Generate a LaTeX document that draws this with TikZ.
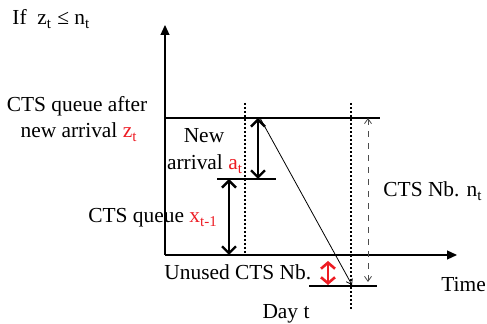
\documentclass[tikz,border=0pt]{standalone}
\usepackage{fontspec}
\setmainfont{Liberation Serif}
\usepackage{tikz}
\usetikzlibrary{arrows.meta, positioning}
\definecolor{notered}{RGB}{237, 28, 36}
\newcommand{\redtxt}[1]{\textcolor{notered}{#1}}

\begin{document}
\begin{tikzpicture}[x=0.5pt, y=-0.5pt,
    lbl/.style={inner sep=0pt, anchor=base west, font=\fontsize{10.7}{13}\selectfont},
    axis/.style={line width=0.6pt, -{Triangle[length=5pt, width=4.5pt]}},
    level/.style={line width=0.55pt},
    guide/.style={line width=0.6pt, dash pattern=on 1pt off 1pt},
    bigarrow/.style={line width=1.2pt, {Straight Barb[length=3.5pt, width=7pt]}-{Straight Barb[length=3.5pt, width=7pt]}},
    thinarrow/.style={line width=0.4pt, -{Straight Barb[length=2.5pt, width=3.5pt]}},
    quota/.style={line width=0.4pt, black!70, dashed, {Straight Barb[length=2.5pt, width=3.5pt]}-{Straight Barb[length=2.5pt, width=3.5pt]}},
    unused/.style={line width=1.3pt, notered, {Straight Barb[length=3pt, width=7pt]}-{Straight Barb[length=3pt, width=7pt]}}
]
    \useasboundingbox (0,0) rectangle (487,324);

    % axes
    \coordinate (origin) at (165,255);
    \coordinate (ytip) at (165,25);
    \coordinate (xtip) at (457,255);
    \draw[axis] (origin) -- (ytip);
    \draw[axis] (origin) -- (xtip);

    % levels
    \coordinate (ztop) at (165,118);
    \coordinate (zend) at (380,118);
    \coordinate (xl) at (217,179);
    \coordinate (xr) at (276,179);
    \coordinate (nl) at (309,286);
    \coordinate (nr) at (377,286);
    \draw[level] (ztop) -- (zend);
    \draw[level] (xl) -- (xr);
    \draw[level] (nl) -- (nr);

    % day guides
    \coordinate (g1top) at (245,103);
    \coordinate (g1bot) at (245,255);
    \coordinate (g2top) at (351,103);
    \coordinate (g2bot) at (351,310);
    \draw[guide] (g1top) -- (g1bot);
    \draw[guide] (g2top) -- (g2bot);

    % arrows
    \coordinate (atop) at (258,118);
    \coordinate (abot) at (258,179);
    \coordinate (qtop) at (229,179);
    \coordinate (qbot) at (229,255);
    \draw[bigarrow] (atop) -- (abot);
    \draw[bigarrow] (qtop) -- (qbot);

    \coordinate (sstart) at (260,118);
    \coordinate (send) at (352,285);
    \draw[thinarrow] (sstart) -- (send);

    \coordinate (ntop) at (368,118);
    \coordinate (nbot) at (368,282);
    \draw[quota] (ntop) -- (nbot);

    \coordinate (utop) at (328,261);
    \coordinate (ubot) at (328,285);
    \draw[unused] (utop) -- (ubot);

    % labels
    \node[lbl] (cond) at (12,25) {If\ \ z\textsubscript{t} ≤ n\textsubscript{t}};
    \node[lbl, anchor=base] (after1) at (77,112) {CTS queue after};
    \node[lbl, anchor=base] (after2) at (79,138) {new arrival \redtxt{z\textsubscript{t}}};
    \node[lbl, anchor=base] (new1) at (204,143) {New};
    \node[lbl, anchor=base] (new2) at (205,170) {arrival \redtxt{a\textsubscript{t}}};
    \node[lbl] (queue) at (88,223) {CTS queue \redtxt{x\textsubscript{t-1}}};
    \node[lbl] (unusedlbl) at (164,280) {Unused CTS Nb.};
    \node[lbl] (nblbl) at (383,197) {CTS Nb. n\textsubscript{t}};
    \node[lbl] (timelbl) at (441,292) {Time};
    \node[lbl, anchor=base] (daylbl) at (286,319) {Day t};
\end{tikzpicture}
\end{document}
